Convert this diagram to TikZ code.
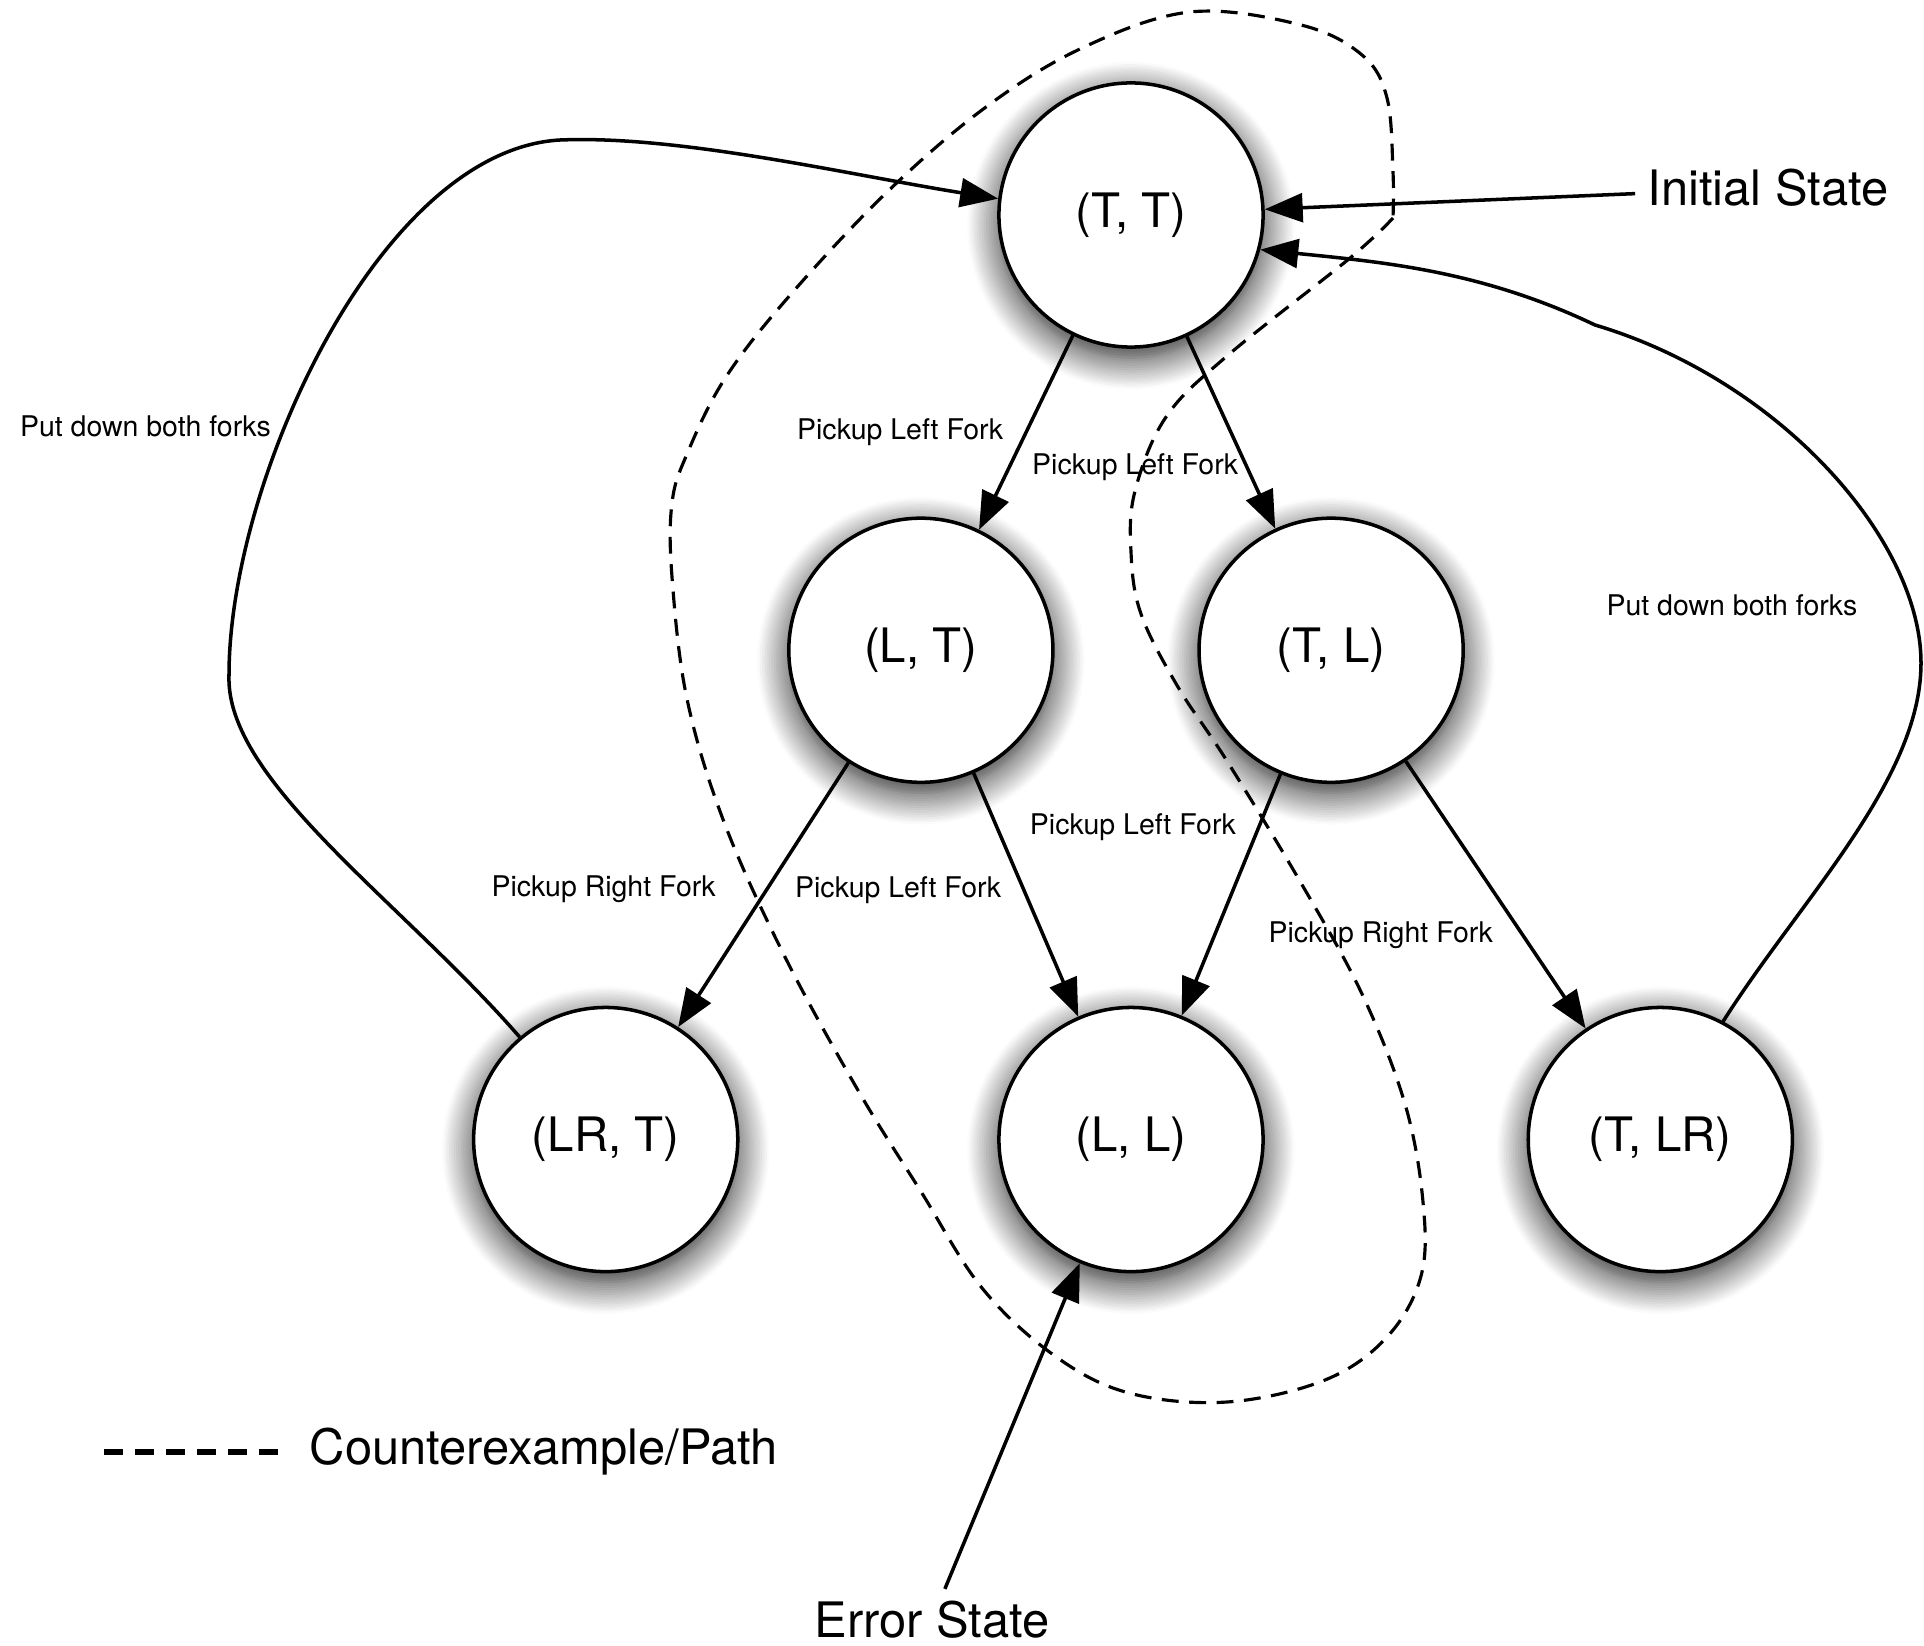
\documentclass[tikz,border=0pt]{standalone}
\usepackage{fontspec}
\setmainfont{TeX Gyre Heros}
\usetikzlibrary{arrows.meta,positioning,shadows.blur}

\tikzset{
  state/.style={circle, draw, fill=white, line width=1pt, minimum size=2.64cm,
    inner sep=0pt, on grid, font=\fontsize{13.5}{16}\selectfont,
    blur shadow={shadow xshift=0pt, shadow yshift=-3pt, shadow blur radius=9pt,
      shadow blur steps=14, shadow opacity=90}},
  trans/.style={line width=1pt, -{Triangle[length=10.8pt,width=8.2pt]}},
  lbl/.style={font=\fontsize{8.1}{10}\selectfont, inner sep=2pt},
  big/.style={font=\fontsize{13.9}{16}\selectfont},
  cex/.style={line width=0.9pt, dash pattern=on 4.8pt off 3pt}
}

\begin{document}
\begin{tikzpicture}[x=0.01cm, y=-0.01cm]
  \useasboundingbox (0,0) rectangle (1924,1646);

  \node[state] (TT) at (1131,215) {(T, T)};
  \node[state, below left=4.35cm and 2.1cm of TT] (LT) {(L, T)};
  \node[state, below right=4.35cm and 2cm of TT] (TL) {(T, L)};
  \node[state, below left=4.89cm and 3.15cm of LT] (LRT) {(LR, T)};
  \node[state, below right=4.89cm and 2.1cm of LT] (LL) {(L, L)};
  \node[state, below right=4.89cm and 3.29cm of TL] (TLR) {(T, LR)};

  \draw[trans] (TT) -- node[lbl, pos=0.5, left=4pt] {Pickup Left Fork} (LT);
  \draw[trans] (TT) -- node[lbl, pos=0.68, left] {Pickup Left Fork} (TL);
  \draw[trans] (LT) -- node[lbl, pos=0.48, left=12pt] {Pickup Right Fork} (LRT);
  \draw[trans] (LT) -- node[lbl, pos=0.48, left=4pt] {Pickup Left Fork} (LL);
  \draw[trans] (TL) -- node[lbl, pos=0.22, left=4pt] {Pickup Left Fork} (LL);
  \draw[trans] (TL) -- node[lbl, pos=0.65, left=6pt] {Pickup Right Fork} (TLR);

  % back to the start
  \draw[trans] (LRT.130) .. controls (400,900) and (225,780) .. (229,675)
    .. controls (229,480) and (380,150) .. (560,140)
       node[lbl, pos=0.37, left=1.5pt] {Put down both forks}
    .. controls (680,135) and (850,175) .. (TT.173);
  \draw[trans] (TLR.62) .. controls (1800,900) and (1921,780) .. (1921,663)
    .. controls (1921,540) and (1780,380) .. (1595,325)
       node[lbl, pos=0.15, left=13pt] {Put down both forks}
    .. controls (1480,270) and (1380,262) .. (TT.345);

  \node[big] (init) at (1768,188) {Initial State};
  \draw[trans] (init) -- (TT);
  \node[big] (err) at (932,1620) {Error State};
  \draw[trans] (err) -- (LL);

  % counterexample
  \draw[cex] plot[smooth, tension=0.6] coordinates {
    (1393,218) (1350,258) (1227,356) (1166,417) (1135,491) (1131,552)
    (1141,614) (1178,687) (1227,761) (1301,883) (1362,994) (1405,1104)
    (1423,1202) (1421,1276) (1387,1337) (1325,1380) (1227,1402) (1129,1393)
    (1055,1356) (982,1288) (920,1190) (859,1092) (785,957) (724,822)
    (687,699) (672,577) (672,503) (687,454) (724,380) (785,301) (883,196)
    (982,110) (1080,49) (1190,12) (1301,25) (1362,55) (1387,98)
    (1393,172) (1393,218)};

  % legend
  \node[big] (cexlbl) at (544,1452) {Counterexample/Path};
  \coordinate (legstart) at (104,1452);
  \draw[line width=1.5pt, dash pattern=on 5.5pt off 3.3pt, shorten >=4pt]
    (legstart) -- (cexlbl.west);
\end{tikzpicture}
\end{document}
